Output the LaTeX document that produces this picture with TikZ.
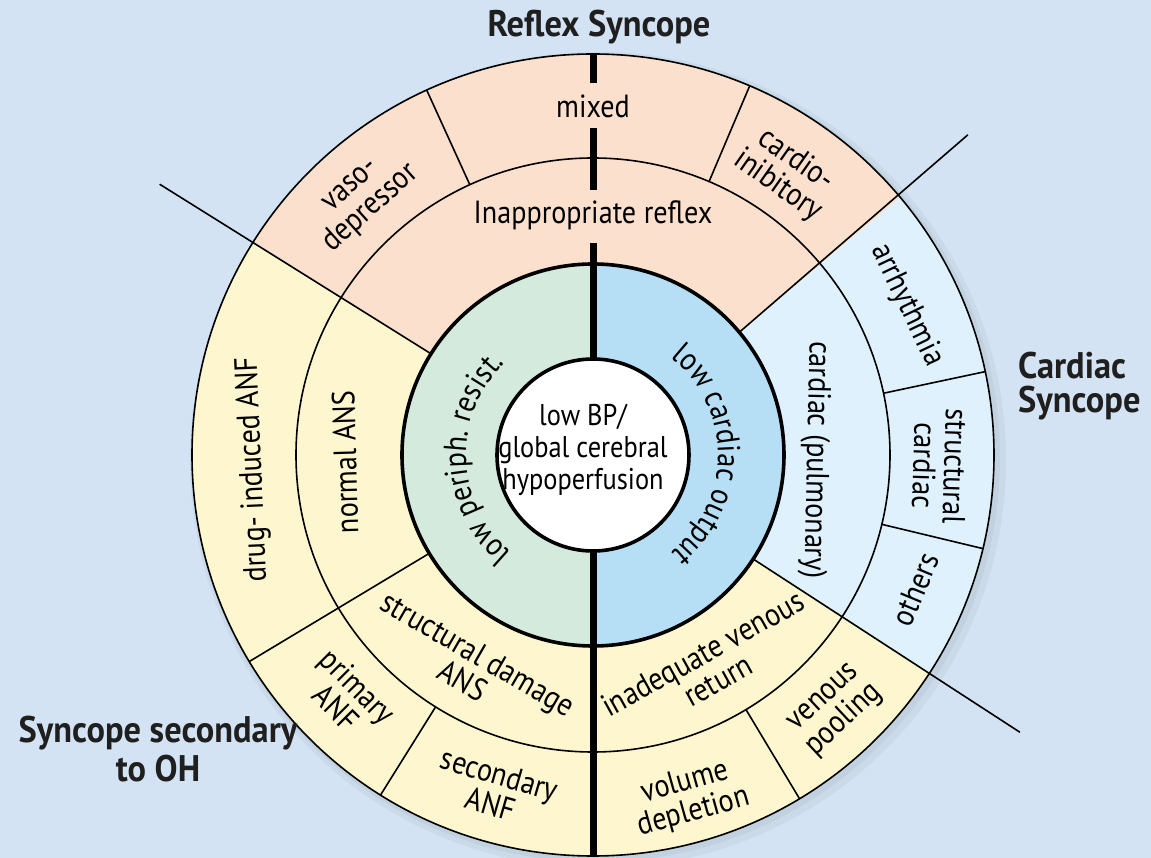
\documentclass[tikz,border=0pt]{standalone}
\usepackage{fontspec}
\setmainfont{PT Sans}[FakeStretch=0.88]
\newfontfamily\ttlfam{PT Sans}[FakeStretch=0.93]
\usetikzlibrary{decorations.text}
\definecolor{bgc}{RGB}{211,227,243}
\definecolor{peachc}{RGB}{252,224,206}
\definecolor{yellowc}{RGB}{253,246,206}
\definecolor{cardc}{RGB}{223,241,252}
\definecolor{greenc}{RGB}{212,234,220}
\definecolor{bluec}{RGB}{182,223,246}
\newcommand{\labfont}{\fontsize{32}{31}\selectfont}
\newcommand{\ctrfont}{\fontsize{30}{31}\selectfont}
\newcommand{\titlefont}{\ttlfam\bfseries\fontsize{37}{34}\selectfont}
\begin{document}
\begin{tikzpicture}[x=1pt,y=1pt,
  lab/.style={font=\labfont, align=center, inner sep=0pt, text=black},
  ttl/.style={font=\titlefont, align=center, inner sep=0pt, text=black!88},
  divider/.style={draw=black, line width=1.6pt},
  ringline/.style={draw=black, line width=3.6pt},
  bar/.style={draw=black, line width=7pt}]
\useasboundingbox (-593,-403) rectangle (558,455);
\fill[bgc] (-593,-403) rectangle (558,455);
% soft shadow
\fill[black, opacity=0.04] (5,-5) circle[radius=408];
\fill[black, opacity=0.04] (3,-3) circle[radius=404];
% sectors
\fill[yellowc] (0,0) circle[radius=401];
\fill[peachc] (0,0) -- (40:401) arc[start angle=40,end angle=148,radius=401] -- cycle;
\fill[cardc] (0,0) -- (-33:401) arc[start angle=-33,end angle=40,radius=401] -- cycle;
\fill[greenc] (0,0) -- (90:191) arc[start angle=90,end angle=270,radius=191] -- cycle;
\fill[bluec] (0,0) -- (-90:191) arc[start angle=-90,end angle=90,radius=191] -- cycle;
\fill[white] (0,0) circle[radius=96];
% circles
\draw[divider] (0,0) circle[radius=401];
\draw[divider] (0,0) circle[radius=297];
\draw[ringline] (0,0) circle[radius=191];
\draw[ringline] (0,0) circle[radius=96];
% main separators
\draw[divider] (148:191) -- (148:511);
\draw[divider] (40:191) -- (40.5:493);
\draw[divider] (-33:191) -- (-33:509);
\draw[divider] (211:191) -- (211:401);
% outer ring dividers
\foreach \a in {114.5,67,12,-13.5,-59,238}{
  \draw[divider] (\a:297) -- (\a:401);
}
% vertical bar
\draw[bar] (0,402) -- (0,372);
\draw[bar] (0,327) -- (0,265);
\draw[bar] (0,212) -- (0,96);
\draw[bar] (0,-96) -- (0,-401);
% curved labels
\path[decorate,decoration={text along path,text align=center,
  text={|\labfont|low periph. resist.}}]
  (236:127) arc[start angle=236,end angle=128,radius=127];
\path[decorate,decoration={text along path,text align=center,
  text={|\labfont|low cardiac output}}]
  (54:125) arc[start angle=54,end angle=-54,radius=125];
% straight labels
\node[lab, font=\ctrfont] (center) at (-10,5) {low BP/\\[1pt]global cerebral\\[1pt]hypoperfusion};
\node[lab] (inapp) at (0,240) {Inappropriate reflex};
\node[lab] (mixed) at (0,349) {mixed};
\node[lab, rotate=42] (vaso) at (132:345) {vaso-\\depressor};
\node[lab, rotate=-35] (cardinh) at (55.5:342) {cardio-\\inibitory};
\node[lab, rotate=-64.5] (arr) at (25.5:348) {arrhythmia};
\node[lab, rotate=-91.8] (struct) at (-1.8:347) {structural\\cardiac};
\node[lab, rotate=67.4] (others) at (-22.6:349) {others};
\node[lab, rotate=43] (pool) at (-46.5:352) {venous\\pooling};
\node[lab, rotate=15.7] (vol) at (-74.3:356) {volume\\depletion};
\node[lab, rotate=-16.3] (sec) at (253.7:348) {secondary\\ANF};
\node[lab, rotate=-45] (prim) at (224.5:345) {primary\\ANF};
\node[lab, rotate=-30] (sdam) at (240:245) {structural damage\\ANS};
\node[lab, rotate=29] (inad) at (-61:242) {inadequate venous\\return};
\node[lab, rotate=-91.3] (cpul) at (-1.3:222) {cardiac (pulmonary)};
\node[lab, rotate=91.6] (nans) at (181.6:248) {normal ANS};
\node[lab, rotate=92.5] (drug) at (182.5:340) {drug- induced ANF};
% titles
\node[ttl, anchor=base] (reflex) at (6,418) {Reflex Syncope};
\node[ttl, anchor=base west, align=left] (cardsync) at (425,42) {Cardiac\\Syncope};
\node[ttl, anchor=base] (oh) at (-435,-327) {Syncope secondary\\[4pt]to OH};
\end{tikzpicture}
\end{document}
